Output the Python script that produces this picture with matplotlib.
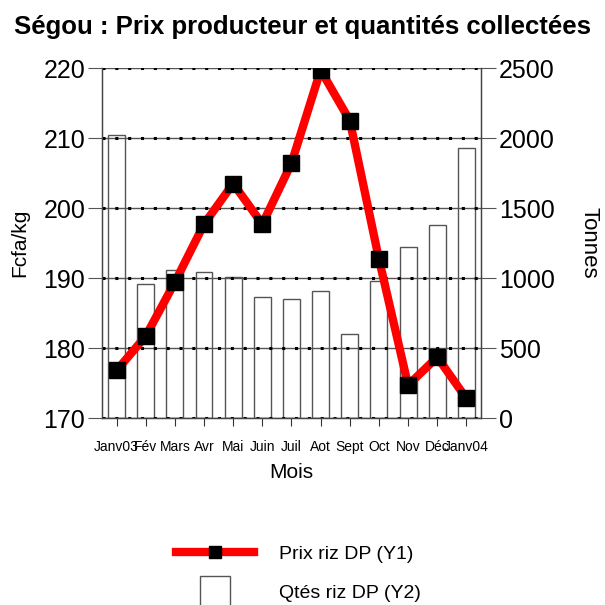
import matplotlib
matplotlib.use("Agg")
import matplotlib.pyplot as plt
from matplotlib.lines import Line2D
import numpy as np

plt.rcParams['font.family'] = ['Liberation Sans', 'DejaVu Sans']

mois = ["Janv03", "Fév", "Mars", "Avr", "Mai", "Juin", "Juil", "Aot",
        "Sept", "Oct", "Nov", "Déc", "Janv04"]
prix = [176.8, 181.7, 189.4, 197.7, 203.5, 197.7, 206.4, 219.7,
        212.5, 192.7, 174.7, 178.7, 172.8]
tonnes = [2020, 955, 1060, 1045, 1010, 865, 850, 905, 600, 980, 1225, 1380, 1930]

fig = plt.figure(figsize=(6.05, 6.05), dpi=100)
ax = fig.add_axes([0.1686, 0.309, 0.6264, 0.5786])
ax2 = ax.twinx()
ax.set_zorder(ax2.get_zorder() + 1)
ax.patch.set_visible(False)

x = np.arange(len(mois))

# barres (Y2) derriere, grille par-dessus
ax2.set_axisbelow(False)
ax2.bar(x, tonnes, width=0.58, color="white", edgecolor="#555555", linewidth=1.0, zorder=1)
ax2.set_ylim(0, 2500)
ax2.set_yticks(np.arange(0, 2501, 500))
ax2.tick_params(axis='y', direction='out', length=11, color="#555555", labelsize=18, pad=2)
ax2.grid(True, axis='y', color="#555555", linewidth=1.0)
ax2.set_xticks(np.arange(1, len(mois), 2), minor=True)
ax2.tick_params(axis='x', which='minor', length=0)
ax2.grid(True, axis='x', which='minor', color="#333333", linewidth=0.9)
ax2.set_ylabel("Tonnes", fontsize=16, rotation=-90, labelpad=32)

# courbe prix (Y1)
ax.plot(x, prix, color="red", linewidth=6, marker="s", markersize=12,
        markerfacecolor="black", markeredgecolor="black", zorder=5)
ax.set_ylim(170, 220)
ax.set_yticks(np.arange(170, 221, 10))
ax.set_xlim(-0.5, len(mois) - 0.5)
ax.set_xticks(x)
ax.set_xticklabels(mois, fontsize=10)
ax.tick_params(axis='y', direction='out', length=10, color="#555555", labelsize=18, pad=2)
ax.tick_params(axis='x', direction='out', length=6, color="#333333", pad=10)
ax.grid(True, axis='y', color="black", linestyle=(0, (1, 3.2)), linewidth=2.2)
ax.set_ylabel("Fcfa/kg", fontsize=15, labelpad=10)
ax.set_xlabel("Mois", fontsize=15, labelpad=6)

for a in (ax, ax2):
    for s in a.spines.values():
        s.set_color("#444444")
        s.set_linewidth(0.9)
ax.spines['top'].set_visible(False)
ax2.spines['top'].set_visible(False)

fig.text(0.5, 0.955, "Ségou : Prix producteur et quantités collectées",
         ha="center", va="center", fontsize=18.5, fontweight="bold")

handles = [
    Line2D([], [], color="red", linewidth=6, marker="s", markersize=9,
           markerfacecolor="black", markeredgecolor="black"),
    Line2D([], [], linestyle="none", marker="s", markersize=21,
           markerfacecolor="white", markeredgecolor="#555555", markeredgewidth=1.0),
]
fig.legend(handles, ["Prix riz DP (Y1)", "Qtés riz DP (Y2)"], loc="upper left",
           bbox_to_anchor=(0.262, 0.128), frameon=False, fontsize=14,
           handlelength=4.0, handletextpad=1.3, labelspacing=1.1)

fig.savefig("out.png", dpi=100)
